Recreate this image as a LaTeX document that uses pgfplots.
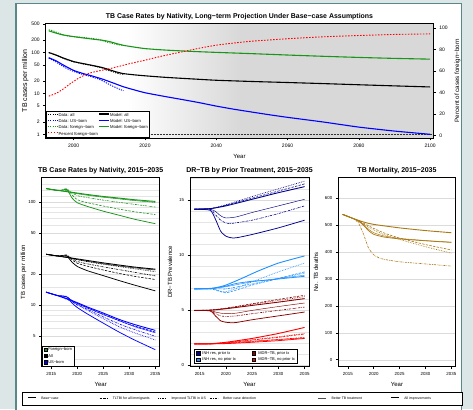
\documentclass[border=0pt]{standalone}
\usepackage{pgfplots}
\pgfplotsset{compat=1.18}
\usepackage{fontspec}
\setmainfont{Liberation Sans}

\definecolor{outerbg}{RGB}{221,230,230}
\definecolor{framecol}{RGB}{90,135,135}
\definecolor{fbgreen}{RGB}{25,150,25}
\definecolor{inhprior}{RGB}{0,0,140}
\definecolor{inhno}{RGB}{30,144,255}
\definecolor{mdrprior}{RGB}{140,0,0}
\definecolor{mortcol}{RGB}{170,120,20}
\definecolor{shadegray}{RGB}{216,216,216}

\pgfplotsset{
  every axis/.append style={
    /pgf/number format/assume math mode=true,
    /pgf/number format/1000 sep={},
  },
  every axis title shift=0pt,
  rbase/.style={
    scale only axis, anchor=south west,
    tick pos=left, tick align=outside,
    major tick length=2.5pt, minor tick length=0pt,
    tick style={black, line width=0.5pt},
    no markers,
    every axis plot/.append style={smooth, tension=0.35},
  },
  panel/.style={rbase, width=118pt, height=189.4pt,
    xmin=2013.16, xmax=2035.84, xtick={2015,2020,2025,2030,2035},
    axis line style={line width=1pt},
    tick label style={font=\fontsize{4.4}{5}\selectfont},
    label style={font=\fontsize{6}{7}\selectfont},
    title style={font=\bfseries\fontsize{7}{8}\selectfont, yshift=0pt},
    xlabel={Year},
    grid style={black!10, line width=0.35pt},
    major grid style={black!14, line width=0.4pt},
    legend style={draw=black, line width=0.7pt, fill=white,
      font=\fontsize{4}{5}\selectfont,
      nodes={inner sep=0.6pt, text height=2.7pt, text depth=0.8pt},
      row sep=1.6pt, inner xsep=1.5pt, inner ysep=1.5pt},
    legend cell align=left,
    legend image code/.code={\fill[#1] (0pt,-1.6pt) rectangle (3.4pt,1.8pt);},
  },
  bc/.style={solid, line width=0.9pt},
  tl/.style={dash pattern=on 2.4pt off 1.3pt, line width=0.6pt},
  im/.style={dash pattern=on 0.7pt off 1pt, line width=0.65pt},
  cd/.style={dash pattern=on 2.2pt off 1pt on 0.6pt off 1pt, line width=0.6pt},
  tt/.style={solid, line width=0.45pt},
  ai/.style={solid, line width=0.75pt},
}

\begin{document}
\begin{tikzpicture}
\path[use as bounding box, fill=outerbg] (0pt,0pt) rectangle (473pt,409pt);
\fill[white] (16pt,-3pt) rectangle (461.7pt,405.7pt);
\draw[framecol, line width=1.2pt] (16pt,-3pt) -- (16pt,405.7pt) -- (461.7pt,405.7pt) -- (461.7pt,-3pt);

% ---------- top: long-term projection ----------
\begin{axis}[rbase, at={(45.7pt,271pt)}, width=387.6pt, height=114.5pt,
  axis on top,
  axis line style={line width=0.8pt},
  xmin=1992.14, xmax=2100.9, ymode=log, ymin=0.812, ymax=514,
  xtick={2000,2020,2040,2060,2080,2100},
  ytick={1,2,5,10,20,50,100,200,500},
  yticklabels={1,2,5,10,20,50,100,200,500},
  yminorticks=false,
  tick label style={font=\fontsize{5}{6}\selectfont},
  xlabel={Year}, ylabel={TB cases per million},
  xlabel style={font=\fontsize{6}{7}\selectfont},
  ylabel style={font=\fontsize{7}{8}\selectfont},
  ylabel shift=-4pt,
  title={TB Case Rates by Nativity, Long−term Projection Under Base−case Assumptions},
  title style={font=\bfseries\fontsize{6.95}{8}\selectfont, yshift=0pt},
  legend style={at={(0,0)}, anchor=south west, legend columns=2,
    draw=black, line width=0.7pt, fill=white,
    font=\fontsize{4.2}{5}\selectfont,
    nodes={inner sep=0.5pt, text height=2.8pt, text depth=0.8pt},
    row sep=1.7pt, inner xsep=1.2pt, inner ysep=1.2pt},
  legend cell align=left,
  legend image code/.code={\draw[#1] (0pt,1.2pt) -- (10pt,1.2pt);},
]
\shade[left color=white, right color=shadegray] (axis cs:2015,0.812) rectangle (axis cs:2047,514);
\fill[shadegray] (axis cs:2047,0.812) rectangle (axis cs:2100.9,514);
\draw[black!80, dash pattern=on 0.6pt off 0.9pt, line width=0.5pt] (axis cs:1992.14,1) -- (axis cs:2100.9,1);

\addplot[black, dash pattern=on 1.2pt off 1.2pt, line width=0.9pt] coordinates {
(1993,100)(1994,94)(1995,87)(1996,80)(1997,73)(1998,67)(1999,63)(2000,59)(2001,57)(2002,54)(2003,52)
(2004,50)(2005,48)(2006,46)(2007,44)(2008,42)(2009,38)(2010,36)(2011,34)(2012,31.5)(2013,30)(2014,29.5)};
\addlegendentry{Data: all}
\addplot[black, line width=1.1pt] coordinates {
(1993,100)(1995,87)(1997,74)(2000,60)(2003,53)(2005,49)(2008,43)(2010,38)(2012,33.5)(2014,30.5)(2017,28.5)
(2020,27)(2025,25)(2030,23.5)(2035,22.2)(2040,21)(2050,19.6)(2060,18.5)(2070,17.4)(2080,16.3)(2090,15.3)(2100,14.4)};
\addlegendentry{Model: all}
\addplot[blue, dash pattern=on 1.2pt off 1.2pt, line width=0.9pt] coordinates {
(1993,73)(1994,66)(1995,59)(1996,52)(1997,46)(1998,41)(1999,37.5)(2000,34.5)(2001,32)(2002,30)(2003,28.5)
(2004,27)(2005,25.5)(2006,24)(2007,22.5)(2008,20.5)(2009,18.5)(2010,16.5)(2011,15)(2012,13.7)(2013,12.5)(2014,11.7)};
\addlegendentry{Data: US−born}
\addplot[blue, line width=1.1pt] coordinates {
(1993,75)(1995,63)(1997,50)(2000,36.5)(2003,30)(2005,27)(2008,22.5)(2010,19.5)(2012,16.8)(2014,14.5)(2017,12.2)
(2020,10.4)(2025,8.6)(2030,7.2)(2035,6.0)(2040,4.9)(2045,4.1)(2050,3.5)(2055,3.0)(2060,2.6)(2070,2.0)(2080,1.5)(2090,1.2)(2100,1.0)};
\addlegendentry{Model: US−born}
\addplot[fbgreen, dash pattern=on 1.2pt off 1.2pt, line width=0.9pt] coordinates {
(1993,360)(1994,345)(1995,318)(1996,292)(1997,272)(1998,258)(1999,250)(2000,246)(2001,242)(2002,238)(2003,232)
(2004,226)(2005,222)(2006,216)(2007,210)(2008,198)(2009,184)(2010,174)(2011,166)(2012,158)(2013,153)(2014,150)};
\addlegendentry{Data: foreign−born}
\addplot[fbgreen, line width=1.1pt] coordinates {
(1993,340)(1995,300)(1997,270)(2000,245)(2003,226)(2005,215)(2008,200)(2010,186)(2012,166)(2014,150)(2017,136)
(2020,125)(2025,116)(2030,110)(2035,105)(2040,101)(2050,94)(2060,87)(2070,81)(2080,76)(2090,72)(2100,69)};
\addlegendentry{Model: foreign−born}
\addlegendimage{red, dash pattern=on 1.5pt off 1.5pt, line width=0.9pt}
\addlegendentry{Percent foreign−born}
\end{axis}

\begin{axis}[rbase, at={(45.7pt,271pt)}, width=387.6pt, height=114.5pt,
  xmin=1992.14, xmax=2100.9, ymin=-2.5, ymax=104.2,
  hide x axis, axis y line*=right, ytick pos=right, yticklabel pos=right,
  axis line style={line width=0.8pt},
  ytick={0,20,40,60,80,100},
  tick label style={font=\fontsize{5}{6}\selectfont},
  ylabel={Percent of cases foreign−born}, ylabel near ticks,
  ylabel style={font=\fontsize{6.2}{7}\selectfont},
]
\addplot[red, dash pattern=on 1.5pt off 1.5pt, line width=0.9pt] coordinates {
(1993,36.5)(1995,39)(1997,43)(1999,48)(2001,52.5)(2003,56)(2005,58.5)(2007,60)(2010,62)(2013,64.5)(2016,67)
(2020,70)(2025,74)(2030,77.5)(2035,81)(2040,84)(2045,86)(2050,87.7)(2060,90)(2070,91.8)(2080,93)(2090,94)(2100,94.5)};
\end{axis}

% ---------- panel A: case rates ----------
\begin{axis}[panel, at={(41.7pt,42.3pt)},
  ymode=log, ymin=2.53, ymax=175,
  ytick={5,10,20,50,100}, yticklabels={5,10,20,50,100},
  minor ytick={3,4,6,7,8,9,15,30,40,60,70,80,90,115,130,150},
  ymajorgrids, yminorgrids,
  ylabel={TB cases per million}, ylabel shift=-5pt,
  title={TB Case Rates by Nativity, 2015−2035},
  legend style={at={(0,0)}, anchor=south west},
]
\addlegendimage{fill=fbgreen}\addlegendentry{Foreign−born}
\addlegendimage{fill=black}\addlegendentry{All}
\addlegendimage{fill=blue}\addlegendentry{US−born}
% foreign-born
\addplot[fbgreen, bc] coordinates {(2014,136)(2015,133.5)(2016,131)(2017,129)(2018,127)(2019,125)(2020,123)(2022,119)(2025,114)(2028,110)(2031,106)(2035,102)};
\addplot[fbgreen, tt] coordinates {(2014,136)(2016,131)(2017,129)(2018,126.5)(2019,124)(2020,121)(2022,117)(2025,112)(2028,108)(2031,104)(2035,100)};
\addplot[fbgreen, im] coordinates {(2014,136)(2016,131)(2017,129.5)(2018,128)(2019,125)(2020,122)(2022,118)(2025,113)(2028,108.5)(2031,104.5)(2035,100)};
\addplot[fbgreen, cd] coordinates {(2014,136)(2016,131)(2017,130)(2018,131)(2019,124)(2020,116)(2022,111)(2025,105)(2028,100)(2031,95.5)(2035,90)};
\addplot[fbgreen, tl] coordinates {(2014,136)(2016,131)(2017,131.5)(2018,136)(2019,118)(2020,106)(2022,99)(2025,92)(2028,86)(2031,81)(2035,76)};
\addplot[fbgreen, ai] coordinates {(2014,136)(2016,131)(2017,131)(2018,133)(2019,110)(2020,99)(2022,91)(2025,82)(2028,75)(2031,68.5)(2035,62)};
% all
\addplot[black, bc] coordinates {(2014,31.3)(2016,30.2)(2018,29.2)(2020,28.2)(2022,27.2)(2025,25.8)(2028,24.6)(2031,23.5)(2035,22.4)};
\addplot[black, tt] coordinates {(2014,31.3)(2016,30.2)(2018,29.1)(2020,27.8)(2022,26.7)(2025,25.3)(2028,24.1)(2031,23.1)(2035,22.0)};
\addplot[black, im] coordinates {(2014,31.3)(2016,30.2)(2018,29.3)(2020,27.7)(2022,26.5)(2025,25.0)(2028,23.8)(2031,22.6)(2035,21.2)};
\addplot[black, cd] coordinates {(2014,31.3)(2016,30.2)(2017,30.2)(2018,30.3)(2019,28.5)(2020,26.6)(2022,25.2)(2025,23.6)(2028,22.2)(2031,20.9)(2035,19.3)};
\addplot[black, tl] coordinates {(2014,31.3)(2016,30.2)(2017,30.4)(2018,30.8)(2019,27.6)(2020,25.6)(2022,23.9)(2025,22.0)(2028,20.4)(2031,19.1)(2035,17.8)};
\addplot[black, ai] coordinates {(2014,31.3)(2016,30.2)(2017,30.2)(2018,30.0)(2019,26.2)(2020,23.8)(2022,21.6)(2025,19.4)(2028,17.4)(2031,15.7)(2035,13.8)};
% US-born
\addplot[blue, bc] coordinates {(2014,13.4)(2016,12.5)(2018,11.6)(2020,10.6)(2022,9.6)(2025,8.4)(2028,7.3)(2031,6.5)(2035,5.7)};
\addplot[blue, tl] coordinates {(2014,13.4)(2016,12.5)(2017,12.3)(2018,12.1)(2019,11.1)(2020,10.4)(2022,9.4)(2025,8.2)(2028,7.1)(2031,6.3)(2035,5.5)};
\addplot[blue, tt] coordinates {(2014,13.4)(2016,12.5)(2018,11.5)(2020,10.4)(2022,9.4)(2025,8.1)(2028,7.1)(2031,6.2)(2035,5.4)};
\addplot[blue, cd] coordinates {(2014,13.4)(2016,12.5)(2017,12.3)(2018,12.2)(2019,10.9)(2020,10.1)(2022,9.1)(2025,7.7)(2028,6.6)(2031,5.8)(2035,5.0)};
\addplot[blue, im] coordinates {(2014,13.4)(2016,12.5)(2018,11.4)(2020,10.1)(2022,8.9)(2025,7.4)(2028,6.2)(2031,5.4)(2035,4.6)};
\addplot[blue, ai] coordinates {(2014,13.4)(2016,12.5)(2017,12.3)(2018,12.0)(2019,10.5)(2020,9.5)(2022,8.2)(2025,6.7)(2028,5.5)(2031,4.6)(2035,3.7)};
\end{axis}

% ---------- panel B: DR-TB ----------
\begin{axis}[panel, at={(190pt,42.3pt)}, width=119pt,
  ymin=-0.12, ymax=17.1, ytick={0,5,10,15},
  minor ytick={1,2,3,4,6,7,8,9,11,12,13,14,16,17},
  ymajorgrids, yminorgrids,
  ylabel={DR−TB Prevalence},
  title={DR−TB by Prior Treatment, 2015−2035},
  legend columns=2,
  legend style={at={(0.036,0.014)}, anchor=south west},
  legend image code/.code={\fill[#1] (0pt,-1.6pt) rectangle (3.4pt,1.8pt);\path (5pt,0pt);},
]
\addlegendimage{fill=inhprior}\addlegendentry{\makebox[49pt][l]{INH res, prior tx}}
\addlegendimage{fill=mdrprior}\addlegendentry{MDR−TB, prior tx}
\addlegendimage{fill=inhno}\addlegendentry{\makebox[49pt][l]{INH res, no prior tx}}
\addlegendimage{fill=red}\addlegendentry{MDR−TB, no prior tx}
% INH res, prior tx
\addplot[inhprior, bc] coordinates {(2014,14.2)(2017,14.25)(2020,14.5)(2025,15.1)(2030,15.7)(2035,16.25)};
\addplot[inhprior, tl] coordinates {(2014,14.2)(2017,14.25)(2020,14.55)(2025,15.2)(2030,15.85)(2035,16.5)};
\addplot[inhprior, im] coordinates {(2014,14.2)(2017,14.25)(2020,14.6)(2025,15.35)(2030,16.05)(2035,16.75)};
\addplot[inhprior, tt] coordinates {(2014,14.2)(2017,14.2)(2018,14.0)(2019,13.6)(2020,13.4)(2022,13.5)(2025,13.9)(2030,14.5)(2035,15.1)};
\addplot[inhprior, cd] coordinates {(2014,14.2)(2017,14.2)(2018,13.7)(2019,13.2)(2020,12.95)(2021,12.9)(2025,13.2)(2030,13.8)(2035,14.5)};
\addplot[inhprior, ai] coordinates {(2014,14.2)(2017,14.1)(2018,13.3)(2019,12.2)(2020,11.75)(2021,11.6)(2022,11.6)(2025,11.9)(2030,12.5)(2035,13.2)};
% INH res, no prior tx
\addplot[inhno, bc] coordinates {(2014,6.95)(2016,6.97)(2018,7.05)(2020,7.3)(2023,7.9)(2026,8.55)(2030,9.3)(2035,9.95)};
\addplot[inhno, im] coordinates {(2014,6.95)(2017,6.97)(2018,6.9)(2019,6.75)(2020,6.7)(2022,7.0)(2025,7.6)(2030,8.5)(2035,9.3)};
\addplot[inhno, tl] coordinates {(2014,6.95)(2017,6.95)(2018,6.85)(2019,6.7)(2020,6.6)(2022,6.85)(2025,7.3)(2030,7.9)(2035,8.5)};
\addplot[inhno, cd] coordinates {(2014,6.95)(2017,6.97)(2019,6.95)(2020,6.95)(2025,7.4)(2030,7.9)(2035,8.4)};
\addplot[inhno, tt] coordinates {(2014,6.95)(2017,6.97)(2020,7.15)(2025,7.6)(2030,7.9)(2035,8.2)};
\addplot[inhno, ai] coordinates {(2014,6.95)(2017,6.98)(2018,7.05)(2020,7.2)(2022,7.45)(2025,7.65)(2028,7.75)(2030,7.85)(2035,8.1)};
% MDR-TB, prior tx
\addplot[mdrprior, bc] coordinates {(2014,5.0)(2017,5.02)(2020,5.15)(2025,5.45)(2030,5.75)(2035,6.07)};
\addplot[mdrprior, tl] coordinates {(2014,5.0)(2017,5.03)(2020,5.2)(2025,5.6)(2030,6.0)(2035,6.37)};
\addplot[mdrprior, im] coordinates {(2014,5.0)(2017,5.02)(2020,5.18)(2025,5.55)(2030,5.9)(2035,6.25)};
\addplot[mdrprior, tt] coordinates {(2014,5.0)(2017,4.98)(2018,4.85)(2019,4.75)(2020,4.7)(2022,4.75)(2025,5.0)(2030,5.35)(2035,5.67)};
\addplot[mdrprior, cd] coordinates {(2014,5.0)(2017,4.97)(2018,4.7)(2019,4.5)(2020,4.45)(2022,4.5)(2025,4.7)(2030,5.0)(2035,5.3)};
\addplot[mdrprior, ai] coordinates {(2014,5.0)(2017,4.95)(2018,4.5)(2019,4.05)(2020,3.92)(2021,3.88)(2022,3.9)(2025,4.15)(2030,4.5)(2035,4.85)};
% MDR-TB, no prior tx
\addplot[red, bc] coordinates {(2014,1.95)(2017,1.97)(2020,2.1)(2025,2.45)(2030,2.9)(2035,3.45)};
\addplot[red, tl] coordinates {(2014,1.95)(2017,1.96)(2020,2.05)(2025,2.3)(2030,2.55)(2035,2.85)};
\addplot[red, im] coordinates {(2014,1.95)(2017,1.97)(2020,2.07)(2025,2.33)(2030,2.6)(2035,2.9)};
\addplot[red, cd] coordinates {(2014,1.95)(2017,1.96)(2020,2.0)(2025,2.15)(2030,2.35)(2035,2.55)};
\addplot[red, tt] coordinates {(2014,1.95)(2017,1.96)(2020,2.03)(2025,2.2)(2030,2.35)(2035,2.5)};
\addplot[red, ai] coordinates {(2014,1.95)(2017,1.95)(2020,1.98)(2025,2.1)(2030,2.25)(2035,2.45)};
\end{axis}

% ---------- panel C: mortality ----------
\begin{axis}[panel, at={(338.3pt,42.3pt)}, width=117.4pt,
  ymin=-26, ymax=678, ytick={0,100,200,300,400,500,600},
  ymajorgrids,
  ylabel={No. TB deaths},
  title={TB Mortality, 2015−2035},
]
\addplot[mortcol, bc] coordinates {(2014,540)(2016,525)(2018,512)(2020,503)(2025,490)(2030,480)(2035,472)};
\addplot[mortcol, tt] coordinates {(2014,540)(2016,525)(2017,517)(2018,503)(2019,485)(2020,472)(2022,460)(2025,451)(2030,443)(2035,437)};
\addplot[mortcol, ai] coordinates {(2014,540)(2016,525)(2017,516)(2018,500)(2019,480)(2020,466)(2022,456)(2025,449)(2030,442)(2035,436)};
\addplot[mortcol, tl] coordinates {(2014,540)(2016,525)(2017,517)(2018,508)(2019,498)(2020,488)(2022,471)(2025,452)(2030,428)(2035,408)};
\addplot[mortcol, im] coordinates {(2014,540)(2016,525)(2017,516)(2018,505)(2019,493)(2020,482)(2022,465)(2025,447)(2030,420)(2035,396)};
\addplot[mortcol, cd] coordinates {(2014,540)(2016,525)(2017,510)(2018,468)(2019,415)(2020,390)(2021,379)(2022,373)(2025,364)(2030,356)(2035,348)};
\end{axis}

% ---------- shared scenario legend ----------
\begin{axis}[hide axis, scale only axis, anchor=south west,
  at={(21.7pt,3.5pt)}, width=436.6pt, height=12.5pt,
  xmin=0, xmax=1, ymin=0, ymax=1,
  legend columns=6,
  legend style={at={(0,0)}, anchor=south west, draw=black, line width=0.7pt, fill=white,
    font=\fontsize{3.5}{4}\selectfont,
    nodes={inner sep=0pt, text height=2.5pt, text depth=0.7pt},
    inner xsep=5.3pt, inner ysep=4.6pt},
  legend cell align=left,
  legend image code/.code={\draw[#1] (0pt,1.1pt) -- (8pt,1.1pt); \path (13pt,1.1pt);},
]
\addlegendimage{black, bc}\addlegendentry{\makebox[58pt][l]{Base−case}}
\addlegendimage{black, tl}\addlegendentry{\makebox[45pt][l]{TLTBI for all immigrants}}
\addlegendimage{black, im}\addlegendentry{\makebox[38pt][l]{Improved TLTBI in US}}
\addlegendimage{black, cd}\addlegendentry{\makebox[95pt][l]{Better case detection}}
\addlegendimage{black!70, tt}\addlegendentry{\makebox[59pt][l]{Better TB treatment}}
\addlegendimage{black, ai}\addlegendentry{\makebox[53pt][l]{All improvements}}
\end{axis}
\end{tikzpicture}
\end{document}
